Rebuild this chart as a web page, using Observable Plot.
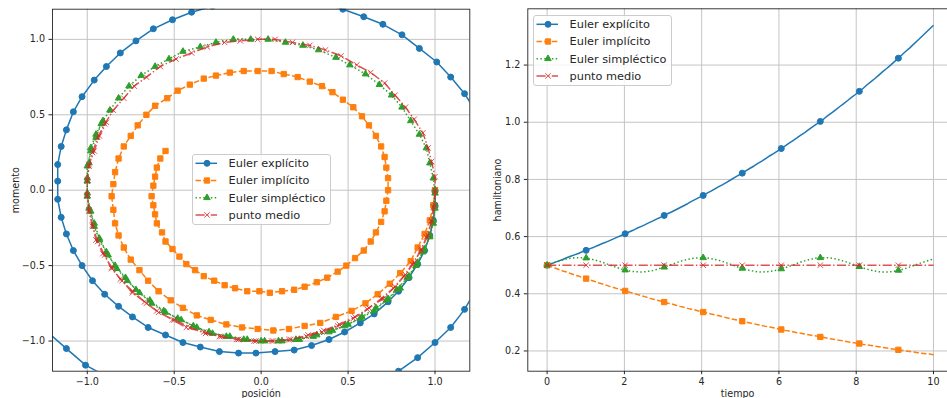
<!DOCTYPE html>
<html><head><meta charset="utf-8">
<script src="https://cdn.jsdelivr.net/npm/d3@7"></script>
<script src="https://cdn.jsdelivr.net/npm/@observablehq/plot@0.6"></script>
<style>
body{margin:0;background:#fff;}
#wrap{position:relative;width:947px;height:398px;overflow:hidden;font-family:"DejaVu Sans";}
#wrap > svg{position:absolute;top:0;}
</style></head><body><div id="wrap"></div>
<script>
// ---- datos ----
const metodos = ["Euler explícito", "Euler implícito", "Euler simpléctico", "punto medio"];

const tiempo = [
0, 0.101, 0.202, 0.303, 0.404, 0.505, 0.606, 0.707, 0.808, 0.909, 1.010, 1.111, 1.212, 1.313, 1.414, 1.515, 1.616, 1.717, 1.818, 1.919, 2.020, 2.121, 2.222, 2.323, 2.424,
2.525, 2.626, 2.727, 2.828, 2.929, 3.030, 3.131, 3.232, 3.333, 3.434, 3.535, 3.636, 3.737, 3.838, 3.939, 4.040, 4.141, 4.242, 4.343, 4.444, 4.545, 4.646, 4.747, 4.848, 4.949,
5.051, 5.152, 5.253, 5.354, 5.455, 5.556, 5.657, 5.758, 5.859, 5.960, 6.061, 6.162, 6.263, 6.364, 6.465, 6.566, 6.667, 6.768, 6.869, 6.970, 7.071, 7.172, 7.273, 7.374, 7.475,
7.576, 7.677, 7.778, 7.879, 7.980, 8.081, 8.182, 8.283, 8.384, 8.485, 8.586, 8.687, 8.788, 8.889, 8.990, 9.091, 9.192, 9.293, 9.394, 9.495, 9.596, 9.697, 9.798, 9.899, 10];

const qExplicito = [
1, 1, 0.99, 0.97, 0.94, 0.90, 0.85, 0.79, 0.73, 0.65, 0.57, 0.48, 0.39, 0.29, 0.19, 0.08, -0.03, -0.13, -0.24, -0.35, -0.45, -0.55, -0.65, -0.74, -0.82,
-0.90, -0.97, -1.03, -1.08, -1.12, -1.15, -1.17, -1.17, -1.17, -1.15, -1.12, -1.08, -1.03, -0.96, -0.89, -0.81, -0.72, -0.62, -0.51, -0.40, -0.28, -0.16, -0.04, 0.09, 0.22,
0.34, 0.47, 0.59, 0.70, 0.81, 0.91, 1.01, 1.09, 1.17, 1.23, 1.29, 1.33, 1.35, 1.37, 1.37, 1.36, 1.33, 1.29, 1.23, 1.17, 1.09, 1.00, 0.90, 0.79, 0.67,
0.54, 0.40, 0.26, 0.12, -0.03, -0.18, -0.33, -0.47, -0.61, -0.75, -0.88, -1.01, -1.12, -1.23, -1.32, -1.41, -1.47, -1.53, -1.57, -1.59, -1.60, -1.60, -1.57, -1.53, -1.48];
const pExplicito = [
0, -0.10, -0.20, -0.30, -0.40, -0.49, -0.58, -0.67, -0.74, -0.82, -0.88, -0.94, -0.99, -1.03, -1.06, -1.07, -1.08, -1.08, -1.07, -1.04, -1.01, -0.96, -0.91, -0.84, -0.77,
-0.69, -0.60, -0.50, -0.40, -0.29, -0.18, -0.06, 0.06, 0.17, 0.29, 0.40, 0.52, 0.62, 0.73, 0.82, 0.91, 0.99, 1.07, 1.13, 1.18, 1.22, 1.25, 1.26, 1.27, 1.26,
1.24, 1.20, 1.15, 1.10, 1.03, 0.94, 0.85, 0.75, 0.64, 0.53, 0.40, 0.27, 0.14, 0.01, -0.13, -0.27, -0.40, -0.54, -0.67, -0.79, -0.91, -1.01, -1.11, -1.20, -1.28,
-1.35, -1.40, -1.44, -1.47, -1.48, -1.48, -1.46, -1.43, -1.38, -1.32, -1.24, -1.16, -1.05, -0.94, -0.82, -0.69, -0.55, -0.40, -0.25, -0.09, 0.07, 0.23, 0.39, 0.55, 0.70];

const qImplicito = [
1, 0.99, 0.97, 0.94, 0.90, 0.86, 0.80, 0.74, 0.67, 0.60, 0.52, 0.43, 0.34, 0.25, 0.16, 0.07, -0.02, -0.11, -0.20, -0.29, -0.37, -0.45, -0.52, -0.59, -0.65,
-0.70, -0.75, -0.79, -0.82, -0.84, -0.85, -0.86, -0.85, -0.84, -0.82, -0.79, -0.75, -0.71, -0.66, -0.61, -0.54, -0.48, -0.41, -0.33, -0.26, -0.18, -0.10, -0.02, 0.06, 0.13,
0.21, 0.28, 0.35, 0.41, 0.47, 0.53, 0.58, 0.62, 0.66, 0.69, 0.71, 0.72, 0.73, 0.73, 0.72, 0.71, 0.69, 0.66, 0.63, 0.59, 0.54, 0.49, 0.44, 0.38, 0.32,
0.25, 0.19, 0.12, 0.05, -0.01, -0.08, -0.15, -0.21, -0.27, -0.33, -0.38, -0.43, -0.47, -0.51, -0.55, -0.57, -0.60, -0.61, -0.62, -0.63, -0.62, -0.61, -0.60, -0.58, -0.55];
const pImplicito = [
0, -0.10, -0.20, -0.29, -0.38, -0.47, -0.55, -0.62, -0.69, -0.75, -0.80, -0.84, -0.88, -0.90, -0.92, -0.93, -0.92, -0.91, -0.89, -0.86, -0.83, -0.78, -0.73, -0.67, -0.60,
-0.53, -0.46, -0.38, -0.30, -0.22, -0.13, -0.04, 0.04, 0.12, 0.21, 0.29, 0.36, 0.43, 0.50, 0.56, 0.61, 0.66, 0.70, 0.74, 0.76, 0.78, 0.79, 0.79, 0.79, 0.77,
0.75, 0.72, 0.69, 0.65, 0.60, 0.55, 0.49, 0.43, 0.36, 0.29, 0.22, 0.15, 0.08, 0, -0.07, -0.14, -0.21, -0.28, -0.34, -0.40, -0.45, -0.50, -0.54, -0.58, -0.61,
-0.64, -0.66, -0.67, -0.68, -0.67, -0.67, -0.65, -0.63, -0.60, -0.57, -0.53, -0.49, -0.44, -0.39, -0.34, -0.28, -0.22, -0.16, -0.10, -0.04, 0.03, 0.09, 0.15, 0.21, 0.26];

const qSimplectico = [
1, 1, 0.99, 0.97, 0.94, 0.90, 0.85, 0.80, 0.73, 0.66, 0.58, 0.50, 0.41, 0.32, 0.22, 0.12, 0.02, -0.08, -0.18, -0.28, -0.37, -0.46, -0.55, -0.63, -0.70,
-0.77, -0.83, -0.88, -0.93, -0.96, -0.98, -1.00, -1.00, -1.00, -0.98, -0.95, -0.92, -0.87, -0.82, -0.76, -0.69, -0.61, -0.53, -0.45, -0.35, -0.26, -0.16, -0.06, 0.04, 0.14,
0.24, 0.33, 0.43, 0.51, 0.60, 0.68, 0.75, 0.81, 0.86, 0.91, 0.95, 0.97, 0.99, 1.00, 1.00, 0.99, 0.97, 0.93, 0.89, 0.84, 0.78, 0.72, 0.65, 0.57, 0.48,
0.39, 0.30, 0.20, 0.10, 0, -0.10, -0.20, -0.30, -0.39, -0.48, -0.56, -0.64, -0.72, -0.78, -0.84, -0.89, -0.93, -0.96, -0.99, -1.00, -1.00, -0.99, -0.98, -0.95, -0.91];
const pSimplectico = [
0, -0.10, -0.20, -0.30, -0.39, -0.48, -0.57, -0.65, -0.72, -0.78, -0.84, -0.89, -0.93, -0.96, -0.99, -1.00, -1.00, -0.99, -0.97, -0.95, -0.91, -0.86, -0.81, -0.75, -0.68,
-0.60, -0.52, -0.43, -0.33, -0.24, -0.14, -0.04, 0.06, 0.16, 0.26, 0.35, 0.44, 0.53, 0.61, 0.69, 0.76, 0.82, 0.87, 0.92, 0.95, 0.98, 1.00, 1.00, 1.00, 0.98,
0.96, 0.93, 0.88, 0.83, 0.77, 0.70, 0.63, 0.55, 0.46, 0.37, 0.28, 0.18, 0.08, -0.02, -0.12, -0.22, -0.31, -0.41, -0.50, -0.58, -0.66, -0.73, -0.80, -0.85, -0.90,
-0.94, -0.97, -0.99, -1.00, -1.00, -0.99, -0.97, -0.94, -0.90, -0.85, -0.80, -0.73, -0.66, -0.58, -0.50, -0.41, -0.32, -0.22, -0.12, -0.02, 0.08, 0.18, 0.28, 0.37, 0.46];

const qMedio = [
1, 1, 0.98, 0.96, 0.92, 0.88, 0.83, 0.77, 0.70, 0.62, 0.54, 0.45, 0.36, 0.27, 0.17, 0.07, -0.03, -0.13, -0.23, -0.32, -0.41, -0.50, -0.59, -0.66, -0.74,
-0.80, -0.86, -0.90, -0.94, -0.97, -0.99, -1.00, -1.00, -0.99, -0.97, -0.94, -0.90, -0.85, -0.79, -0.73, -0.66, -0.58, -0.49, -0.40, -0.31, -0.21, -0.12, -0.02, 0.08, 0.18,
0.28, 0.37, 0.46, 0.55, 0.63, 0.71, 0.77, 0.83, 0.88, 0.93, 0.96, 0.98, 1.00, 1.00, 0.99, 0.98, 0.95, 0.92, 0.87, 0.82, 0.76, 0.69, 0.61, 0.53, 0.44,
0.35, 0.26, 0.16, 0.06, -0.04, -0.14, -0.24, -0.33, -0.43, -0.51, -0.60, -0.67, -0.74, -0.81, -0.86, -0.91, -0.95, -0.97, -0.99, -1.00, -1.00, -0.99, -0.96, -0.93, -0.89];
const pMedio = [
0, -0.10, -0.20, -0.30, -0.39, -0.48, -0.56, -0.64, -0.72, -0.78, -0.84, -0.89, -0.93, -0.96, -0.99, -1.00, -1.00, -0.99, -0.97, -0.95, -0.91, -0.86, -0.81, -0.75, -0.68,
-0.60, -0.52, -0.43, -0.34, -0.24, -0.14, -0.04, 0.06, 0.16, 0.25, 0.35, 0.44, 0.53, 0.61, 0.69, 0.75, 0.82, 0.87, 0.91, 0.95, 0.98, 0.99, 1.00, 1.00, 0.98,
0.96, 0.93, 0.89, 0.83, 0.78, 0.71, 0.63, 0.55, 0.47, 0.38, 0.28, 0.19, 0.09, -0.01, -0.11, -0.21, -0.31, -0.40, -0.49, -0.57, -0.65, -0.72, -0.79, -0.85, -0.90,
-0.94, -0.97, -0.99, -1.00, -1.00, -0.99, -0.97, -0.94, -0.91, -0.86, -0.80, -0.74, -0.67, -0.59, -0.51, -0.42, -0.33, -0.23, -0.13, -0.03, 0.07, 0.17, 0.26, 0.36, 0.45];

const hExplicito = [
0.500, 0.505, 0.510, 0.515, 0.520, 0.526, 0.531, 0.536, 0.541, 0.547, 0.552, 0.558, 0.563, 0.569, 0.575, 0.580, 0.586, 0.592, 0.598, 0.604, 0.610, 0.616, 0.622, 0.629, 0.635,
0.641, 0.648, 0.654, 0.661, 0.667, 0.674, 0.681, 0.687, 0.694, 0.701, 0.708, 0.715, 0.723, 0.730, 0.737, 0.744, 0.752, 0.759, 0.767, 0.775, 0.782, 0.790, 0.798, 0.806, 0.814,
0.822, 0.831, 0.839, 0.847, 0.856, 0.864, 0.873, 0.882, 0.890, 0.899, 0.908, 0.917, 0.927, 0.936, 0.945, 0.955, 0.964, 0.974, 0.984, 0.993, 1.003, 1.013, 1.024, 1.034, 1.044,
1.055, 1.065, 1.076, 1.087, 1.097, 1.108, 1.119, 1.131, 1.142, 1.153, 1.165, 1.177, 1.188, 1.200, 1.212, 1.224, 1.237, 1.249, 1.261, 1.274, 1.287, 1.300, 1.313, 1.326, 1.339];
const hImplicito = [
0.500, 0.495, 0.490, 0.485, 0.480, 0.476, 0.471, 0.466, 0.462, 0.457, 0.453, 0.448, 0.444, 0.439, 0.435, 0.431, 0.426, 0.422, 0.418, 0.414, 0.410, 0.406, 0.402, 0.398, 0.394,
0.390, 0.386, 0.382, 0.378, 0.375, 0.371, 0.367, 0.364, 0.360, 0.356, 0.353, 0.349, 0.346, 0.343, 0.339, 0.336, 0.333, 0.329, 0.326, 0.323, 0.320, 0.316, 0.313, 0.310, 0.307,
0.304, 0.301, 0.298, 0.295, 0.292, 0.289, 0.286, 0.284, 0.281, 0.278, 0.275, 0.272, 0.270, 0.267, 0.264, 0.262, 0.259, 0.257, 0.254, 0.252, 0.249, 0.247, 0.244, 0.242, 0.239,
0.237, 0.235, 0.232, 0.230, 0.228, 0.226, 0.223, 0.221, 0.219, 0.217, 0.215, 0.212, 0.210, 0.208, 0.206, 0.204, 0.202, 0.200, 0.198, 0.196, 0.194, 0.192, 0.190, 0.189, 0.187];
const hSimplectico = [
0.500, 0.505, 0.510, 0.514, 0.518, 0.522, 0.524, 0.526, 0.526, 0.526, 0.525, 0.522, 0.519, 0.515, 0.511, 0.506, 0.501, 0.496, 0.491, 0.487, 0.483, 0.480, 0.478, 0.477, 0.476,
0.477, 0.479, 0.481, 0.485, 0.489, 0.493, 0.498, 0.503, 0.508, 0.513, 0.517, 0.520, 0.523, 0.525, 0.526, 0.526, 0.525, 0.523, 0.520, 0.517, 0.513, 0.508, 0.503, 0.498, 0.493,
0.489, 0.485, 0.481, 0.479, 0.477, 0.476, 0.477, 0.478, 0.480, 0.483, 0.487, 0.491, 0.496, 0.501, 0.506, 0.511, 0.515, 0.519, 0.522, 0.525, 0.526, 0.526, 0.526, 0.524, 0.522,
0.518, 0.514, 0.510, 0.505, 0.500, 0.495, 0.490, 0.486, 0.482, 0.480, 0.477, 0.476, 0.476, 0.477, 0.479, 0.482, 0.485, 0.489, 0.494, 0.499, 0.504, 0.509, 0.513, 0.518, 0.521];
const hMedio = [
0.5, 0.5, 0.5, 0.5, 0.5, 0.5, 0.5, 0.5, 0.5, 0.5, 0.5, 0.5, 0.5, 0.5, 0.5, 0.5, 0.5, 0.5, 0.5, 0.5, 0.5, 0.5, 0.5, 0.5, 0.5,
0.5, 0.5, 0.5, 0.5, 0.5, 0.5, 0.5, 0.5, 0.5, 0.5, 0.5, 0.5, 0.5, 0.5, 0.5, 0.5, 0.5, 0.5, 0.5, 0.5, 0.5, 0.5, 0.5, 0.5, 0.5,
0.5, 0.5, 0.5, 0.5, 0.5, 0.5, 0.5, 0.5, 0.5, 0.5, 0.5, 0.5, 0.5, 0.5, 0.5, 0.5, 0.5, 0.5, 0.5, 0.5, 0.5, 0.5, 0.5, 0.5, 0.5,
0.5, 0.5, 0.5, 0.5, 0.5, 0.5, 0.5, 0.5, 0.5, 0.5, 0.5, 0.5, 0.5, 0.5, 0.5, 0.5, 0.5, 0.5, 0.5, 0.5, 0.5, 0.5, 0.5, 0.5, 0.5];

const ticksFase = [-1.0, -0.5, 0.0, 0.5, 1.0];
const ticksTiempo = [0, 2, 4, 6, 8, 10];
const ticksH = [0.2, 0.4, 0.6, 0.8, 1.0, 1.2];

// ---- estilos ----
const colores = ["#1f77b4", "#ff7f0e", "#2ca02c", "#d62728"];
const simbolos = ["circle", "square", "triangle", "times"];
const radios = [3.0, 3.0, 2.4, 2.6];
const trazos = [null, "5.4,2.3", "1.45,2.4", "9.2,2.3,1.45,2.3"];
const opacidad = [1, 1, 1, 0.8];

// ---- tablas ----
const qs = [qExplicito, qImplicito, qSimplectico, qMedio];
const ps = [pExplicito, pImplicito, pSimplectico, pMedio];
const hs = [hExplicito, hImplicito, hSimplectico, hMedio];
const fase = metodos.map((m, k) => qs[k].map((q, i) => ({metodo: m, q, p: ps[k][i], i})));
const energia = metodos.map((m, k) => tiempo.map((t, i) => ({metodo: m, t, h: hs[k][i], i})));

function serie(datos, xk, yk, k, extra) {
  const fillable = simbolos[k] !== "times";
  return [
    Plot.line(datos, {x: xk, y: yk, stroke: colores[k], strokeWidth: 1.5, strokeDasharray: trazos[k],
      strokeLinecap: "butt", strokeLinejoin: "round", strokeOpacity: opacidad[k], clip: true}),
    Plot.dot(datos, {x: xk, y: yk, symbol: simbolos[k], r: radios[k],
      fill: fillable ? colores[k] : "none", stroke: colores[k], strokeWidth: 1,
      fillOpacity: opacidad[k], strokeOpacity: opacidad[k], clip: true, ...extra})
  ];
}

const fmt1 = d => d.toFixed(1).replace("-", "\u2212");
const estilo = {fontFamily: "DejaVu Sans", fontSize: "9.6px", color: "#262626", background: "transparent", overflow: "visible"};
const rejilla = {stroke: "#c4c4c4", strokeOpacity: 1, strokeWidth: 1};

const izquierda = Plot.plot({
  width: 480, height: 398,
  marginLeft: 52, marginRight: 10.7, marginTop: 8.7, marginBottom: 27.3,
  style: estilo,
  x: {domain: [-1.2, 1.2], ticks: ticksFase, tickFormat: fmt1, tickSize: 3.5, tickPadding: 3.5, label: null},
  y: {domain: [-1.2, 1.2], ticks: ticksFase, tickFormat: fmt1, tickSize: 3.5, tickPadding: 4, label: null},
  marks: [
    Plot.gridX(ticksFase, rejilla),
    Plot.gridY(ticksFase, rejilla),
    ...fase.flatMap((d, k) => serie(d, "q", "p", k, {})),
    Plot.frame({stroke: "#262626", strokeWidth: 0.9}),
    Plot.text(["posición"], {frameAnchor: "bottom", dy: 22.5, lineAnchor: "middle", fill: "#262626"}),
    Plot.text(["momento"], {frameAnchor: "left", dx: -37, rotate: -90, lineAnchor: "middle", textAnchor: "middle", fill: "#262626"})
  ]
});

const derecha = Plot.plot({
  width: 467, height: 398,
  marginLeft: 47.3, marginRight: 0, marginTop: 8.3, marginBottom: 27.3,
  style: estilo,
  x: {domain: [-0.5, 10.5], range: [47.3, 472.3], ticks: ticksTiempo, tickFormat: d => String(d), tickSize: 3.5, tickPadding: 3.5, label: null},
  y: {domain: [0.1292, 1.3968], ticks: ticksH, tickFormat: d => d.toFixed(1), tickSize: 3.5, tickPadding: 4, label: null},
  marks: [
    Plot.gridX(ticksTiempo, rejilla),
    Plot.gridY(ticksH, rejilla),
    ...energia.flatMap((d, k) => serie(d, "t", "h", k, {filter: e => e.i % 10 === 0})),
    Plot.frame({stroke: "#262626", strokeWidth: 0.9}),
    Plot.text(["tiempo"], {frameAnchor: "bottom", dy: 22.5, lineAnchor: "middle", fill: "#262626"}),
    Plot.text(["hamiltoniano"], {frameAnchor: "left", dx: -29.5, rotate: -90, lineAnchor: "middle", textAnchor: "middle", fill: "#262626"})
  ]
});

const wrap = document.getElementById("wrap");
izquierda.style.left = "0px";
derecha.style.left = "480px";
wrap.appendChild(izquierda);
wrap.appendChild(derecha);

// ---- leyendas ----
function leyenda(x0, y0) {
  const svg = d3.create("svg").attr("width", 140).attr("height", 72)
    .style("left", x0 + "px").style("top", y0 + "px").style("position", "absolute");
  svg.append("rect").attr("x", 0.5).attr("y", 0.5).attr("width", 138).attr("height", 70).attr("rx", 2.5)
    .attr("fill", "white").attr("fill-opacity", 0.8).attr("stroke", "#cccccc").attr("stroke-width", 1);
  const tipos = [d3.symbolCircle, d3.symbolSquare, d3.symbolTriangle, d3.symbolTimes];
  metodos.forEach((m, k) => {
    const y = 9.3 + k * 17.2;
    const g = svg.append("g").attr("opacity", opacidad[k]);
    g.append("line").attr("x1", 3.5).attr("x2", 25).attr("y1", y).attr("y2", y)
      .attr("stroke", colores[k]).attr("stroke-width", 1.5).attr("stroke-dasharray", trazos[k]);
    g.append("path").attr("transform", `translate(15,${y})`)
      .attr("d", d3.symbol().type(tipos[k]).size(Math.PI * radios[k] * radios[k])())
      .attr("fill", k === 3 ? "none" : colores[k]).attr("stroke", colores[k]).attr("stroke-width", 1);
    svg.append("text").attr("x", 36.6).attr("y", y).attr("dy", "0.35em")
      .attr("font-family", "DejaVu Sans").attr("font-size", "11.3px").attr("fill", "#262626").text(m);
  });
  wrap.appendChild(svg.node());
}
leyenda(191.7, 154);
leyenda(533.3, 15);
</script></body></html>
